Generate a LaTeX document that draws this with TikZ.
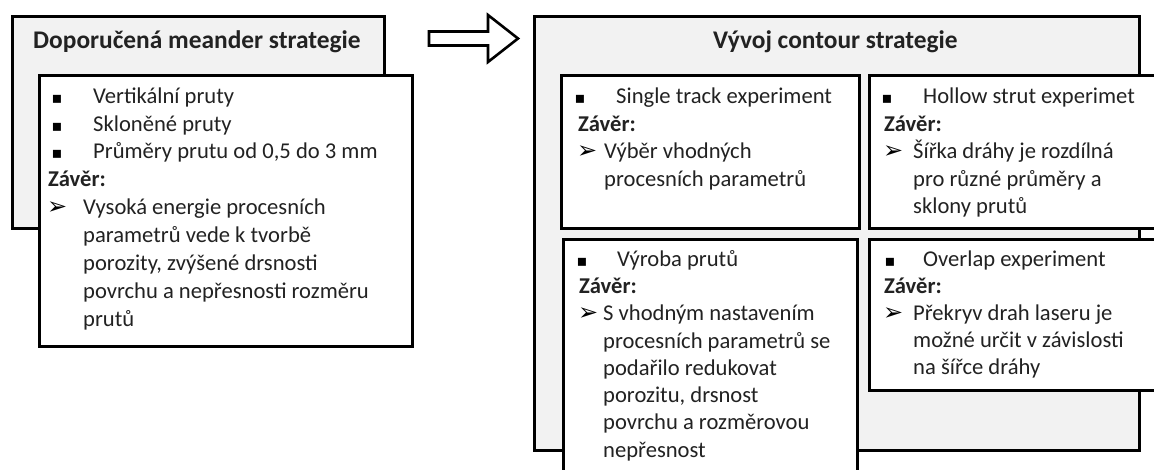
\documentclass[tikz,border=0pt]{standalone}
\usepackage{fontspec}
\setmainfont{Carlito}
\newfontfamily\dejavu{DejaVu Sans}
\definecolor{boxgray}{HTML}{F2F2F2}
\definecolor{txtc}{HTML}{222222}
\newcommand{\bodyfont}{\fontsize{22.6}{28}\selectfont}
\newcommand{\ttlfont}{\fontsize{25.4}{28}\selectfont\bfseries}
\tikzset{
  outerbox/.style={draw=black, line width=3pt, fill=boxgray, inner sep=0, anchor=north west},
  innerbox/.style={draw=black, line width=3pt, fill=white, inner sep=0, anchor=north west},
  txt/.style={anchor=base west, inner sep=0, font=\bodyfont, text=txtc},
  bold/.style={txt, font=\bodyfont\bfseries},
  ttl/.style={anchor=base west, inner sep=0, font=\ttlfont, text=txtc},
  bul/.style={anchor=base, inner sep=0, font=\dejavu\fontsize{16}{16}\selectfont, text=black},
  arrb/.style={anchor=base west, inner sep=0, font=\dejavu\fontsize{24}{24}\selectfont, text=black},
}
\begin{document}
\begin{tikzpicture}[x=1pt,y=-1pt]
\useasboundingbox (0,0) rectangle (1154,469);
\clip (0,0) rectangle (1154,469);
% ---------- left block ----------
\node[outerbox, minimum width=372pt, minimum height=212pt] (Lout) at (11,15) {};
\node[ttl] (Ltitle) at (33,48) {Doporučená meander strategie};
\node[innerbox, minimum width=373pt, minimum height=271pt] (Lin) at (38,74) {};
\node[bul] (Lb1) at (57,103) {▪};
\node[bul] (Lb2) at (57,131) {▪};
\node[bul] (Lb3) at (57,158) {▪};
\node[txt] (Lt1) at (93,103) {Vertikální pruty};
\node[txt] (Lt2) at (93,131) {Skloněné pruty};
\node[txt] (Lt3) at (93,158) {Průměry prutu od 0,5 do 3 mm};
\node[bold] (Lz) at (48,186) {Závěr:};
\node[arrb] (La) at (47,214) {➢};
\node[txt] (Lc1) at (83,214) {Vysoká energie procesních};
\node[txt] (Lc2) at (83,242) {parametrů vede k tvorbě};
\node[txt] (Lc3) at (83,270) {porozity, zvýšené drsnosti};
\node[txt] (Lc4) at (83,298) {povrchu a nepřesnosti rozměru};
\node[txt] (Lc5) at (83,326) {prutů};
% ---------- block arrow ----------
\draw[line width=2.6pt, fill=white, line join=miter]
  (429,31.5) -- (488,31.5) -- (488,15) -- (518,38.5) -- (488,62) -- (488,45.5) -- (429,45.5) -- cycle;
% ---------- right block ----------
\node[outerbox, minimum width=605pt, minimum height=434pt] (Rout) at (533,15) {};
\node[ttl] (Rtitle) at (713,48) {Vývoj contour strategie};
% single track
\node[innerbox, minimum width=298pt, minimum height=153pt] (S) at (560,74) {};
\node[bul] (Sb) at (580,103) {▪};
\node[txt] (St) at (616,103) {Single track experiment};
\node[bold] (Sz) at (578,131) {Závěr:};
\node[arrb] (Sa) at (577,158) {➢};
\node[txt] (Sc1) at (604,158) {Výběr vhodných};
\node[txt] (Sc2) at (604,186) {procesních parametrů};
% hollow strut
\node[innerbox, minimum width=300pt, minimum height=153pt] (H) at (868,74) {};
\node[bul] (Hb) at (887,103) {▪};
\node[txt] (Ht) at (923,103) {Hollow strut experimet};
\node[bold] (Hz) at (884,131) {Závěr:};
\node[arrb] (Ha) at (883,158) {➢};
\node[txt] (Hc1) at (913,158) {Šířka dráhy je rozdílná};
\node[txt] (Hc2) at (913,186) {pro různé průměry a};
\node[txt] (Hc3) at (913,213) {sklony prutů};
% vyroba
\node[innerbox, minimum width=294pt, minimum height=260pt] (V) at (562,238) {};
\node[bul] (Vb) at (582,266) {▪};
\node[txt] (Vt) at (617,266) {Výroba prutů};
\node[bold] (Vz) at (579,293) {Závěr:};
\node[arrb] (Va) at (578,320) {➢};
\node[txt] (Vc1) at (603,320) {S vhodným nastavením};
\node[txt] (Vc2) at (603,348) {procesních parametrů se};
\node[txt] (Vc3) at (603,375) {podařilo redukovat};
\node[txt] (Vc4) at (603,402) {porozitu, drsnost};
\node[txt] (Vc5) at (603,429) {povrchu a rozměrovou};
\node[txt] (Vc6) at (603,457) {nepřesnost};
% overlap
\node[innerbox, minimum width=300pt, minimum height=151pt] (O) at (868,238) {};
\node[bul] (Ob) at (890,266) {▪};
\node[txt] (Ot) at (923,266) {Overlap experiment};
\node[bold] (Oz) at (884,293) {Závěr:};
\node[arrb] (Oa) at (883,320) {➢};
\node[txt] (Oc1) at (913,320) {Překryv drah laseru je};
\node[txt] (Oc2) at (913,347) {možné určit v závislosti};
\node[txt] (Oc3) at (913,374) {na šířce dráhy};
\end{tikzpicture}
\end{document}
